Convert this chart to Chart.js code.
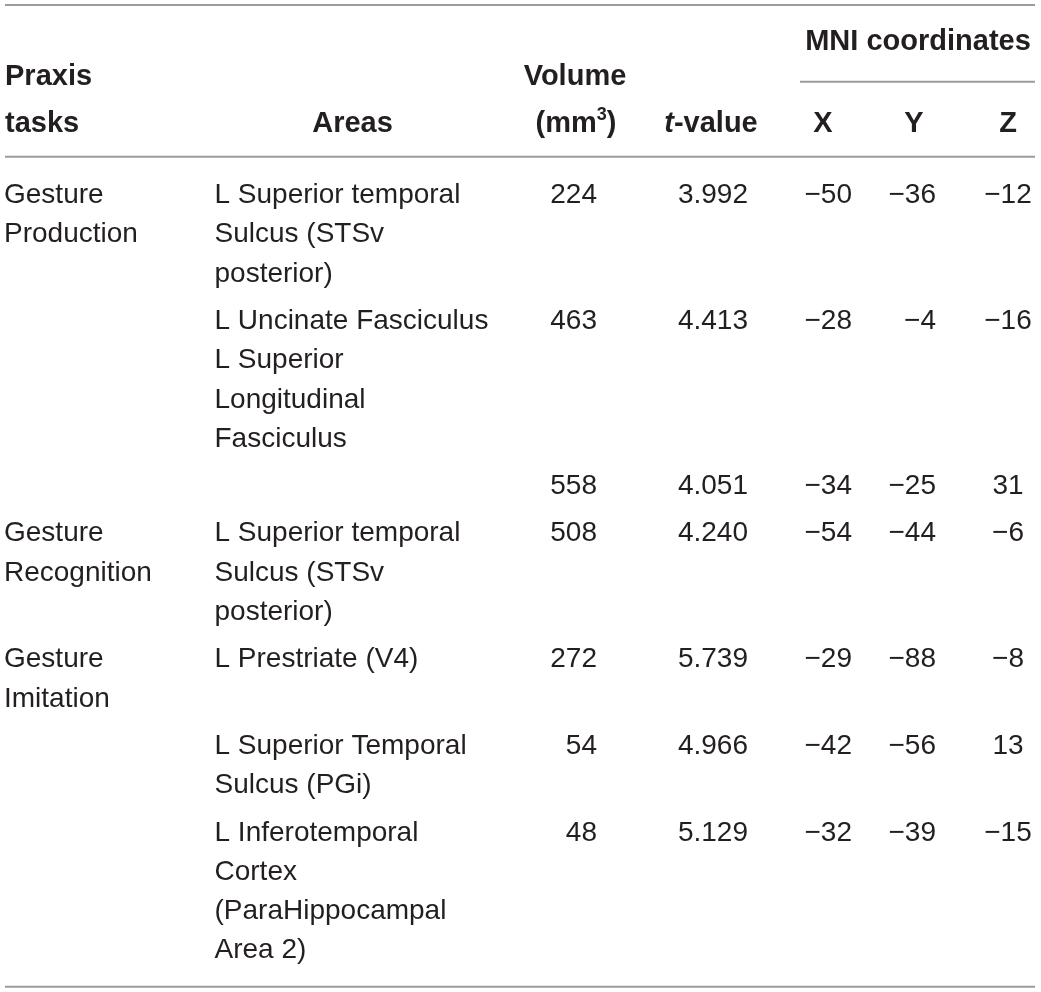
<!DOCTYPE html>
<html>
<head>
<meta charset="utf-8">
<title>Praxis tasks - MNI table</title>
<script src="https://cdn.jsdelivr.net/npm/chart.js@4.4.1/dist/chart.umd.min.js"></script>
<style>
  html, body { margin: 0; padding: 0; background: #fff; }
  #wrap { width: 1041px; height: 992px; position: relative; }
</style>
</head>
<body>
<div id="wrap"><canvas id="tableChart"></canvas></div>
<script>
// table content, one entry per row
var tasks = [
  ['Gesture', 'Production'],
  [],
  [],
  ['Gesture', 'Recognition'],
  ['Gesture', 'Imitation'],
  [],
  []
];
var areas = [
  ['L Superior temporal', 'Sulcus (STSv', 'posterior)'],
  ['L Uncinate Fasciculus', 'L Superior', 'Longitudinal', 'Fasciculus'],
  [],
  ['L Superior temporal', 'Sulcus (STSv', 'posterior)'],
  ['L Prestriate (V4)'],
  ['L Superior Temporal', 'Sulcus (PGi)'],
  ['L Inferotemporal', 'Cortex', '(ParaHippocampal', 'Area 2)']
];
var volumes = [224, 463, 558, 508, 272, 54, 48];
var tValues = [3.992, 4.413, 4.051, 4.240, 5.739, 4.966, 5.129];
var mniX = [-50, -28, -34, -54, -29, -42, -32];
var mniY = [-36, -4, -25, -44, -88, -56, -39];
var mniZ = [-12, -16, 31, -6, -8, 13, -15];

// layout (in scale units, the scales span the page)
var pageW = 1041, pageH = 992;
var lineH = 39.3, rowGap = 8, firstBaseline = 203;
var colTask = 4, colArea = 214.5, colVol = 597, colT = 748, colX = 852, colY = 936, colZ = 1008;
var ruleLeft = 5, ruleRight = 1035, mniLeft = 800;
var textColor = '#231f20', ruleColor = '#9b9b9b';
var fontFamily = '"Liberation Sans", Arial, Helvetica, sans-serif';

function fmtNum(v) {
  return v < 0 ? '\u2212' + Math.abs(v) : String(v);
}

var tablePlugin = {
  id: 'tablePlugin',
  afterDraw: function(chart) {
    var ctx = chart.ctx;
    var xs = chart.scales.x, ys = chart.scales.y;
    var px = function(v) { return xs.getPixelForValue(v); };
    var py = function(v) { return ys.getPixelForValue(v); };

    ctx.save();
    // rules
    ctx.strokeStyle = ruleColor;
    ctx.lineWidth = 2;
    function rule(x1, x2, y) {
      ctx.beginPath();
      ctx.moveTo(px(x1), py(y));
      ctx.lineTo(px(x2), py(y));
      ctx.stroke();
    }
    rule(ruleLeft, ruleRight, 5);
    rule(mniLeft, ruleRight, 81.7);
    rule(ruleLeft, ruleRight, 156.7);
    rule(ruleLeft, ruleRight, 986.7);

    ctx.fillStyle = textColor;
    ctx.textBaseline = 'alphabetic';

    // header
    var bold = 'bold 29px ' + fontFamily;
    var supFont = 'bold 18px ' + fontFamily;
    ctx.font = bold;
    ctx.textAlign = 'left';
    ctx.fillText('Praxis', px(colTask + 1), py(85));
    ctx.fillText('tasks', px(colTask + 1), py(131.7));
    ctx.textAlign = 'center';
    ctx.fillText('Areas', px(352.5), py(131.7));
    ctx.fillText('Volume', px(575), py(85));
    ctx.fillText('MNI coordinates', px(918), py(50));
    ctx.fillText('X', px(823), py(131.7));
    ctx.fillText('Y', px(914), py(131.7));
    ctx.fillText('Z', px(1008), py(131.7));

    // (mm3) with superscript
    ctx.textAlign = 'left';
    var a = '(mm', b = ')';
    var wa = ctx.measureText(a).width, wb = ctx.measureText(b).width;
    ctx.font = supFont;
    var ws = ctx.measureText('3').width;
    var startX = px(576) - (wa + ws + wb) / 2;
    ctx.font = bold;
    ctx.fillText(a, startX, py(131.7));
    ctx.fillText(b, startX + wa + ws, py(131.7));
    ctx.font = supFont;
    ctx.fillText('3', startX + wa, py(120));

    // t-value with italic t
    ctx.font = 'italic ' + bold;
    var wt = ctx.measureText('t').width;
    ctx.font = bold;
    var wv = ctx.measureText('-value').width;
    var tx = px(711) - (wt + wv) / 2;
    ctx.font = 'italic ' + bold;
    ctx.fillText('t', tx, py(131.7));
    ctx.font = bold;
    ctx.fillText('-value', tx + wt, py(131.7));

    // body rows
    ctx.font = '28px ' + fontFamily;
    var base = firstBaseline;
    for (var i = 0; i < volumes.length; i++) {
      var n = Math.max(tasks[i].length, areas[i].length, 1);
      ctx.textAlign = 'left';
      tasks[i].forEach(function(t, k) { ctx.fillText(t, px(colTask), py(base + k * lineH)); });
      areas[i].forEach(function(t, k) { ctx.fillText(t, px(colArea), py(base + k * lineH)); });
      ctx.textAlign = 'right';
      ctx.fillText(String(volumes[i]), px(colVol), py(base));
      ctx.fillText(tValues[i].toFixed(3), px(colT), py(base));
      ctx.fillText(fmtNum(mniX[i]), px(colX), py(base));
      ctx.fillText(fmtNum(mniY[i]), px(colY), py(base));
      ctx.textAlign = 'center';
      ctx.fillText(fmtNum(mniZ[i]), px(colZ), py(base));
      base += n * lineH + rowGap;
    }
    ctx.restore();
  }
};

var ctx = document.getElementById('tableChart').getContext('2d');
var tableChart = new Chart(ctx, {
  type: 'scatter',
  data: { datasets: [{ data: [], pointRadius: 0 }] },
  options: {
    responsive: true,
    maintainAspectRatio: false,
    animation: false,
    layout: { padding: 0 },
    plugins: { legend: { display: false }, tooltip: { enabled: false } },
    scales: {
      x: { type: 'linear', min: 0, max: pageW, display: false },
      y: { type: 'linear', min: 0, max: pageH, reverse: true, display: false }
    }
  },
  plugins: [tablePlugin]
});
</script>
</body>
</html>
